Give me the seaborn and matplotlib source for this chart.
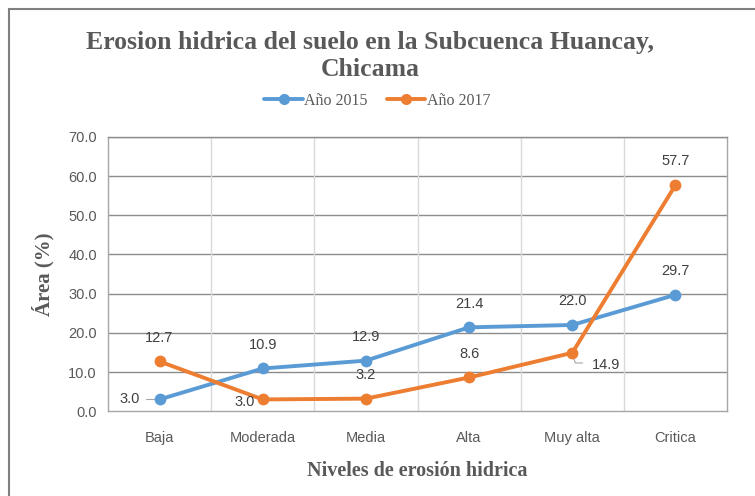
import numpy as np
import pandas as pd
import seaborn as sns
import matplotlib.pyplot as plt
from matplotlib.patches import Rectangle
from matplotlib.lines import Line2D

# Data
niveles = ["Baja", "Moderada", "Media", "Alta", "Muy alta", "Critica"]
area_2015 = [3.0, 10.9, 12.9, 21.4, 22.0, 29.7]
area_2017 = [12.7, 3.0, 3.2, 8.6, 14.9, 57.7]
series = ["Año 2015", "Año 2017"]
colors = ["#5B9BD5", "#ED7D31"]

df = pd.DataFrame({
    "nivel": niveles * 2,
    "area": area_2015 + area_2017,
    "serie": [series[0]] * len(niveles) + [series[1]] * len(niveles),
})

sns.set_style("white")
text_grey = "#595959"
serif = ["Liberation Serif", "DejaVu Serif"]
plt.rcParams["font.family"] = ["Liberation Sans", "DejaVu Sans"]

fig = plt.figure(figsize=(7.55, 4.96), dpi=100)
ax = fig.add_axes([0.143, 0.171, 0.820, 0.553])

sns.lineplot(data=df, x="nivel", y="area", hue="serie", palette=colors,
             marker="o", markersize=8.5, markeredgewidth=0, linewidth=2.8,
             sort=False, legend=False, ax=ax)

ax.set_xlim(-0.5, len(niveles) - 0.5)
ax.set_ylim(0, 70)
ax.set_yticks(np.arange(0, 71, 10))
ax.set_yticklabels([f"{v:.1f}" for v in np.arange(0, 71, 10)])
ax.set_xticks(range(len(niveles)))
ax.set_xticklabels(niveles)
ax.tick_params(axis="both", length=0, labelsize=10.5, colors=text_grey, pad=8)
ax.tick_params(axis="x", pad=14)

# gridlines: dark horizontal, light vertical between categories
for v in np.arange(10, 71, 10):
    ax.axhline(v, color="#8C8C8C", lw=1.0, zorder=0)
for b in np.arange(0.5, len(niveles) - 1, 1):
    ax.axvline(b, color="#D9D9D9", lw=1.0, zorder=0)
for side in ["left", "right", "bottom", "top"]:
    ax.spines[side].set_color("#A6A6A6")
    ax.spines[side].set_linewidth(1.0)
ax.spines["top"].set_color("#8C8C8C")

ax.set_xlabel("Niveles de erosión hidrica", fontsize=14.5, fontweight="bold",
              family=serif, color=text_grey, labelpad=12)
ax.set_ylabel("Área (%)", fontsize=15, fontweight="bold", family=serif,
              color=text_grey, labelpad=10)

# data labels
lab_kw = dict(fontsize=10.5, color="#404040")
for i, v in enumerate(area_2015):
    if i == 0:
        ax.annotate(f"{v:.1f}", (i, v), xytext=(-14, 0), textcoords="offset points",
                    ha="right", va="center", **lab_kw)
        ax.plot([i - 0.13, i - 0.05], [v, v], color="#A6A6A6", lw=0.8, zorder=1)
    else:
        ax.annotate(f"{v:.1f}", (i, v), xytext=(0, 12), textcoords="offset points",
                    ha="center", va="bottom", **lab_kw)
for i, v in enumerate(area_2017):
    if i == 1:
        ax.annotate(f"{v:.1f}", (i, v), xytext=(-6, -2), textcoords="offset points",
                    ha="right", va="center", **lab_kw)
    elif i == 4:
        ax.annotate(f"{v:.1f}", (i, v), xytext=(14, -9), textcoords="offset points",
                    ha="left", va="center", **lab_kw)
        ax.plot([i, i + 0.03, i + 0.1], [v - 0.3, v - 2.6, v - 2.6],
                color="#A6A6A6", lw=0.8, zorder=1)
    else:
        ax.annotate(f"{v:.1f}", (i, v), xytext=(0, 12), textcoords="offset points",
                    ha="center", va="bottom", **lab_kw)

# title and legend
fig.text(0.49, 0.887, "Erosion hidrica del suelo en la Subcuenca Huancay,\nChicama",
         ha="center", va="center", fontsize=18.5, fontweight="bold", family=serif,
         color=text_grey, linespacing=1.22)
handles = [Line2D([0], [0], color=c, lw=2.8, marker="o", markersize=8,
                  markeredgewidth=0) for c in colors]
leg = fig.legend(handles, series, loc="center", bbox_to_anchor=(0.5, 0.797),
                 ncol=2, frameon=False, handlelength=2.4, handletextpad=0.1,
                 columnspacing=1.2, prop={"family": serif, "size": 11.5})
for t in leg.get_texts():
    t.set_color(text_grey)

# outer chart frame (cropped on the right and bottom)
fig.patches.append(Rectangle((0.012, -0.05), 1.2, 1.032,
                             transform=fig.transFigure, fill=False,
                             edgecolor="#7F7F7F", lw=1.5))

fig.savefig("out.png", dpi=100)
